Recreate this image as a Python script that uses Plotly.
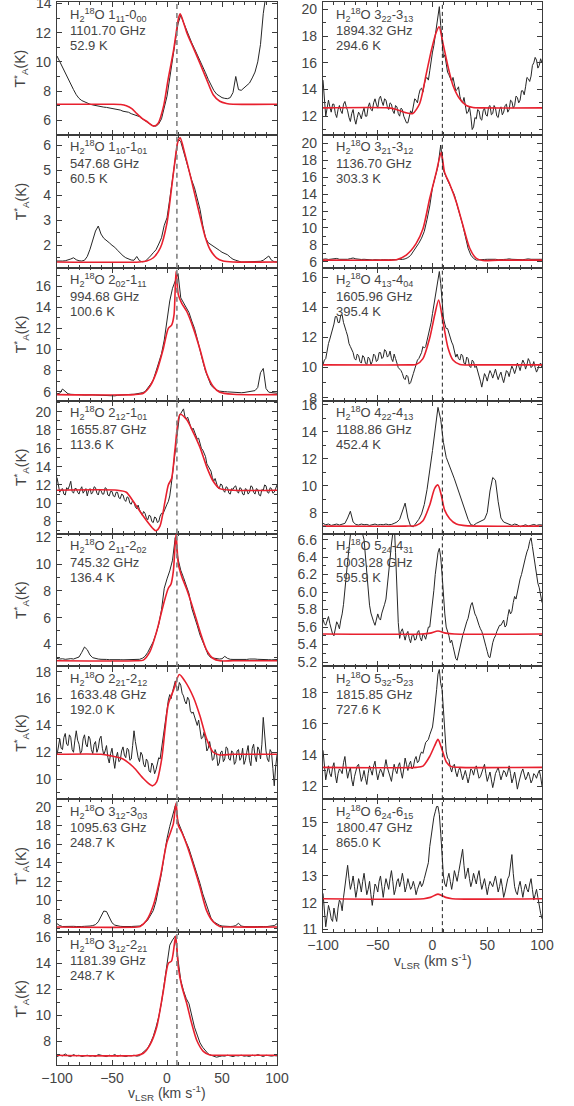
import numpy as np
import plotly.graph_objects as go

V_SYS = 9.0  # systemic velocity marked by the dashed line (km/s)

# ---------------- observed spectra (evenly spaced channels from -100 to 100 km/s) ----------------
OBS_L1 = [10.4,10.0,9.6,9.2,8.8,8.45,8.1,7.75,7.5,7.35,7.25,7.15,7.1,7.05,7.0,6.98,6.95,6.9,6.88,6.85,
          6.8,6.78,6.72,6.7,6.62,6.6,6.55,6.45,6.4,6.35,6.25,6.1,5.95,5.85,5.72,5.62,5.6,5.75,6.1,6.8,
          7.65,8.9,10.0,11.4,12.6,13.2,12.7,12.2,11.8,11.3,10.9,10.5,10.15,9.75,9.25,8.8,8.4,8.05,7.8,7.65,
          7.55,7.5,7.48,7.55,7.9,9.0,8.1,8.05,8.2,8.35,8.55,8.9,9.3,10.0,11.2,13.3,15.0,16.5,18.0,19.0,20.0]
OBS_L2 = [1.37,1.36,1.37,1.38,1.4,1.45,1.5,1.42,1.38,1.37,1.4,1.55,1.84,2.2,2.57,2.77,2.45,2.28,2.17,2.1,
          2.0,1.92,1.8,1.68,1.58,1.5,1.45,1.41,1.4,1.55,1.38,1.34,1.35,1.45,1.57,1.7,1.82,2.05,2.3,2.8,
          3.1,3.85,4.7,5.55,6.25,6.15,5.75,5.35,4.95,4.6,4.3,3.9,3.44,2.8,2.3,2.1,2.03,1.97,1.9,1.8,
          1.72,1.67,1.62,1.52,1.44,1.4,1.35,1.33,1.33,1.33,1.34,1.33,1.34,1.33,1.36,1.4,1.5,1.57,1.4,1.34,1.33]
OBS_L3 = [5.8,5.85,6.25,6.05,5.8,5.75,5.72,5.7,5.72,5.7,5.68,5.7,5.72,5.7,5.68,5.66,5.68,5.65,5.6,5.58,
          5.55,5.6,5.65,5.68,5.7,5.72,5.72,5.75,5.75,5.78,5.8,5.9,6.0,6.3,6.7,7.1,7.9,8.7,9.6,10.9,
          12.6,14.6,15.8,16.6,17.2,14.9,14.4,13.95,13.5,12.7,12.0,11.0,9.85,8.9,7.95,7.2,6.6,6.35,6.15,6.05,
          6.0,6.0,5.98,5.95,5.95,5.93,5.92,5.9,5.92,5.95,5.97,6.0,6.1,6.4,7.8,8.2,6.3,5.95,5.9,5.85,5.85]
OBS_L4 = [12.8,12.1,11.2,11.5,11.6,11.0,10.9,11.7,11.5,11.9,12.4,11.3,11.1,11.6,11.6,11.2,11.0,11.5,11.8,11.1,
          11.3,11.6,10.8,11.4,11.6,11.0,11.2,11.8,11.7,11.1,10.9,11.5,11.4,11.0,11.0,11.7,11.6,10.9,10.8,11.3,
          11.3,10.8,10.7,11.2,
          11.2,10.6,10.5,11.0,10.9,10.4,10.2,10.7,10.6,10.0,9.9,10.3,10.1,9.6,9.4,9.8,9.3,8.9,8.7,9.1,
          8.9,8.4,8.2,8.7,8.6,8.0,7.9,8.5,8.4,7.9,8.0,8.6,8.9,8.8,9.2,9.7,
          9.9,10.2,10.8,11.9,13.2,14.8,16.2,17.6,18.6,19.5,19.8,20.1,20.3,19.5,19.2,19.4,
          18.9,18.3,18.0,18.2,17.8,17.2,17.0,17.1,16.6,16.0,15.8,15.5,15.1,14.3,14.0,13.8,13.5,12.8,12.4,12.7,
          12.3,11.7,11.6,12.1,12.0,11.4,11.2,11.8,11.7,11.1,11.0,11.6,
          11.5,11.8,11.9,11.3,11.1,11.7,11.6,11.0,10.9,11.6,11.5,11.0,11.2,11.9,11.8,11.2,11.0,11.6,11.5,10.9,
          10.8,11.5,11.4,12.0,11.9,11.2,11.1,11.7,11.6,11.1,11.2,11.7,12.0]
OBS_L5 = [2.95,2.9,2.92,2.88,2.9,2.93,2.9,2.95,3.05,3.4,3.8,3.6,3.2,3.0,2.92,2.9,2.88,2.9,2.87,2.85,
          2.86,2.85,2.87,2.85,2.84,2.85,2.86,2.85,2.84,2.86,2.88,2.95,3.1,3.4,3.8,4.2,4.8,5.5,6.6,8.2,
          8.9,9.5,10.3,12.0,10.4,9.55,9.0,8.35,7.8,6.7,6.1,5.4,4.7,4.15,3.6,3.2,3.0,2.95,2.92,2.9,
          2.92,3.1,2.95,2.88,2.87,2.86,2.87,2.86,2.88,2.87,2.9,2.92,2.9,2.88,2.86,2.85,2.86,2.85,2.84,2.85,2.86]
OBS_L6 = [11.8,12.6,13.0,12.3,12.2,13.1,13.4,12.6,12.5,13.3,13.1,12.2,12.0,12.9,13.6,12.9,12.6,11.9,12.1,13.0,
          13.3,12.6,12.4,13.2,13.0,12.2,11.9,12.6,12.8,12.0,12.3,13.0,13.2,12.3,11.8,12.1,12.5,11.6,11.2,11.9,
          12.3,11.5,10.8,11.6,
          12.0,11.3,11.4,12.1,12.4,11.8,11.6,12.3,12.2,11.4,11.5,12.5,13.6,12.8,12.0,11.6,11.3,12.0,11.8,11.1,
          10.9,11.5,11.3,10.6,10.5,11.2,11.0,10.4,10.7,11.3,11.6,11.5,12.3,13.0,13.7,14.5,
          15.4,15.9,16.3,16.0,16.5,17.0,17.3,16.7,16.6,17.2,17.0,16.4,16.2,15.8,15.6,16.1,
          15.9,15.1,14.9,15.0,14.6,14.2,14.0,14.4,13.8,13.0,13.1,13.5,12.9,12.1,12.3,12.8,12.2,11.4,11.5,12.2,
          11.9,11.0,11.2,12.0,12.1,11.3,11.5,12.4,12.3,11.5,11.4,12.1,
          12.0,11.1,11.3,12.1,12.2,11.4,11.6,12.3,11.1,11.4,12.0,12.5,11.4,11.0,12.3,12.6,11.7,11.3,12.4,12.2,
          11.5,12.6,14.6,13.0,12.1,11.5,11.3,12.2,12.0,10.8,9.5,10.9,11.8]
OBS_L7 = [7.5,7.3,7.2,7.22,7.18,7.2,7.22,7.2,7.18,7.2,7.22,7.2,7.25,7.3,7.4,7.7,8.3,8.85,8.8,8.2,
          7.6,7.35,7.25,7.22,7.2,7.18,7.2,7.2,7.22,7.2,7.25,7.4,7.6,7.9,8.4,8.9,9.9,11.3,12.9,14.8,
          16.6,17.9,18.9,20.1,18.4,17.6,17.0,16.2,15.5,14.6,13.8,12.8,11.8,10.7,9.8,8.8,8.1,7.7,7.5,7.35,
          7.25,7.22,7.2,7.2,7.22,7.3,7.55,7.25,7.2,7.18,7.2,7.2,7.18,7.2,7.22,7.2,7.18,7.2,7.22,7.3,7.5]
OBS_L8 = [6.85,6.95,6.9,7.05,6.9,6.85,7.0,6.9,6.95,6.85,6.9,6.95,6.88,6.92,6.85,7.0,6.95,6.9,6.85,6.95,
          6.9,7.0,6.88,6.95,6.9,6.85,6.92,6.9,6.95,6.88,6.92,7.1,7.25,7.5,7.9,8.4,9.1,9.9,11.0,12.4,
          13.9,15.4,15.8,16.1,14.3,12.7,11.9,11.3,10.9,9.9,9.1,8.5,7.9,7.55,7.3,7.05,6.95,6.85,6.8,6.85,
          6.9,6.88,6.95,6.9,6.85,6.92,6.9,6.95,6.88,6.9,6.85,6.95,6.9,7.0,6.9,6.85,6.95,6.9,6.88,6.92,6.9]
OBS_R1 = [14.7,13.4,12.0,12.6,13.2,12.7,12.3,12.9,12.9,12.2,11.9,12.5,12.8,12.4,12.2,12.9,13.1,12.7,12.4,11.9,
          11.6,12.2,12.5,11.8,11.4,11.9,12.3,12.1,11.8,12.3,12.6,12.0,12.0,12.7,13.0,12.5,12.4,13.0,13.3,12.9,
          12.6,13.3,13.5,13.1,
          12.8,13.3,13.2,12.7,12.5,13.0,12.9,12.4,12.2,12.8,12.7,12.2,12.0,12.6,12.5,12.0,11.8,11.5,11.5,12.0,
          12.4,12.2,12.8,13.3,13.2,13.0,13.6,14.0,14.1,13.8,14.4,14.8,14.9,14.7,15.4,16.2,
          16.8,17.3,18.0,18.6,19.6,20.2,18.8,17.5,16.4,16.6,15.8,15.3,15.1,14.8,14.6,14.9,
          14.4,13.9,14.0,14.2,13.5,13.1,13.0,13.4,12.8,12.2,12.3,12.7,12.0,11.0,11.2,11.9,11.8,12.5,12.4,11.8,
          11.7,12.4,12.6,12.1,12.0,12.7,12.8,12.1,12.2,12.8,12.6,12.0,
          11.9,12.5,12.7,12.1,12.3,12.8,12.9,12.3,12.5,13.2,13.1,12.6,12.8,13.5,13.4,13.0,13.2,13.9,13.9,13.6,
          14.2,14.9,14.8,14.6,15.0,15.8,16.0,16.4,16.2,15.6,15.8,16.3,16.0]
OBS_R2 = [6.3,6.35,6.28,6.32,6.3,6.4,6.3,6.28,6.33,6.3,6.38,6.45,6.35,6.3,6.28,6.3,6.25,6.2,6.22,6.25,
          6.2,6.22,6.25,6.2,6.23,6.25,6.22,6.25,6.3,6.28,6.35,6.5,6.75,7.2,7.6,8.2,8.8,9.6,11.0,12.6,
          14.8,16.2,17.3,19.8,16.8,16.0,15.3,14.6,13.9,12.7,11.6,10.4,9.0,7.6,6.8,6.4,6.2,6.25,6.3,6.28,
          6.3,6.32,6.28,6.3,6.25,6.3,6.28,6.3,6.35,6.3,6.28,6.32,6.3,6.25,6.3,6.35,6.3,6.28,6.3,6.32,6.3]
OBS_R3 = [10.2,10.5,10.6,11.2,11.6,11.9,12.2,12.6,12.9,13.4,13.4,13.0,13.0,13.5,13.5,13.0,12.6,12.4,12.1,11.6,
          11.4,11.2,11.0,10.6,10.5,10.9,10.8,10.4,10.3,10.8,10.7,10.3,10.2,10.7,10.6,10.2,10.4,10.9,10.8,10.4,
          10.5,11.0,11.0,10.6,
          10.7,11.2,11.1,10.7,10.8,11.1,10.6,10.4,10.9,10.6,10.3,10.0,9.9,9.8,9.6,9.3,9.2,9.5,9.4,8.9,
          9.0,9.4,9.6,9.9,10.2,10.5,10.6,10.8,11.0,11.4,11.3,11.4,11.8,12.1,12.4,13.0,
          13.6,14.2,14.8,15.4,16.1,16.4,15.6,14.4,13.3,12.9,12.6,12.6,12.3,11.9,11.7,11.5,
          11.1,10.7,10.9,10.6,10.5,10.9,10.8,10.3,10.2,10.7,10.6,10.1,10.0,10.5,10.4,10.0,10.1,9.8,9.5,9.1,
          8.7,9.2,9.6,9.4,9.1,9.5,9.8,9.6,9.3,9.6,9.9,9.5,
          9.2,9.5,9.7,9.3,9.0,9.4,9.8,9.7,9.4,9.8,10.1,9.9,9.6,9.9,10.3,10.1,9.8,10.2,10.5,10.3,
          9.9,10.2,10.6,10.4,10.0,10.1,10.4,10.0,9.7,9.9,10.2,10.3,10.0]
OBS_R4 = [7.2,7.1,7.15,7.05,7.1,7.15,7.08,7.12,7.2,7.6,8.1,7.3,7.12,7.08,7.15,7.1,7.12,7.05,7.1,7.15,
          7.08,7.12,7.1,7.15,7.1,7.12,7.2,7.3,7.5,8.1,8.7,7.6,7.0,6.95,7.2,7.5,7.9,8.6,9.7,11.0,
          12.6,14.2,15.8,14.9,13.2,12.1,11.6,11.1,10.5,9.9,9.3,8.7,8.1,7.5,7.1,7.05,7.2,7.3,7.4,7.5,
          8.0,9.6,10.6,10.4,8.8,7.6,7.3,7.2,7.1,7.05,7.15,7.1,6.95,7.05,7.1,7.0,7.08,7.12,7.05,7.1,7.08]
OBS_R5 = [5.69,5.64,5.62,5.68,5.72,5.64,5.58,5.52,5.5,5.6,5.66,5.63,5.58,5.68,5.75,5.86,6.0,6.18,6.35,6.5,
          6.7,6.85,6.95,6.92,6.9,6.85,6.8,6.76,6.7,6.66,6.6,6.4,6.2,6.0,5.85,5.76,5.7,5.66,5.62,5.7,
          5.75,5.7,5.68,5.76,
          5.8,5.86,5.92,6.05,6.2,6.38,6.55,6.75,6.8,6.45,5.95,5.65,5.47,5.55,5.58,5.5,5.45,5.52,5.55,5.47,
          5.42,5.5,5.52,5.45,5.46,5.54,5.56,5.48,5.44,5.52,5.5,5.46,5.54,5.6,5.6,5.72,
          5.85,6.02,6.2,6.35,6.45,6.5,6.4,6.2,5.95,5.75,5.6,5.55,5.5,5.42,5.45,5.38,
          5.3,5.24,5.22,5.3,5.35,5.42,5.5,5.55,5.62,5.66,5.7,5.78,5.85,5.88,5.8,5.75,5.72,5.66,5.62,5.58,
          5.55,5.5,5.45,5.38,5.32,5.26,5.25,5.35,5.42,5.47,5.5,5.55,
          5.58,5.62,5.62,5.66,5.68,5.6,5.62,5.72,5.8,5.75,5.78,5.88,5.95,5.92,6.0,6.1,6.15,6.2,6.28,6.36,
          6.4,6.46,6.5,6.58,6.62,6.52,6.4,6.3,6.2,6.1,6.05,5.95,5.88]
OBS_R6 = [14.3,13.2,12.4,12.9,13.3,12.8,12.6,13.2,13.5,12.7,12.2,12.8,13.1,13.0,12.8,13.5,13.9,13.1,12.5,12.9,
          13.2,12.4,12.0,12.6,12.9,13.3,13.4,12.7,12.3,12.6,13.0,12.5,12.1,12.8,13.3,13.0,12.7,13.3,13.6,12.9,
          12.4,12.8,13.1,12.9,
          12.6,13.2,13.7,13.2,12.9,12.5,12.3,12.9,13.4,13.0,12.8,13.3,13.5,12.9,12.5,13.1,13.8,13.4,13.0,13.4,
          13.6,13.1,13.2,13.7,13.9,13.5,13.6,14.0,14.2,14.1,14.5,14.8,14.9,15.0,15.3,15.5,
          15.8,16.5,17.2,18.2,19.2,19.5,18.6,18.2,16.9,15.4,14.2,13.8,13.7,13.2,12.9,13.3,
          13.4,12.9,12.6,13.0,13.2,12.8,12.4,12.7,13.0,12.6,12.2,12.6,13.1,13.0,12.7,13.1,13.3,12.9,12.5,12.6,
          12.9,13.2,13.4,12.8,12.3,12.6,12.9,12.4,11.9,12.3,12.8,13.0,
          13.2,12.8,12.4,12.7,13.0,12.9,12.6,12.9,13.3,12.8,12.2,12.5,12.9,12.4,11.8,12.2,12.6,12.9,13.1,12.8,
          12.4,12.6,12.9,12.6,12.2,12.4,12.8,12.7,12.5,12.8,13.0,12.6,12.0]
OBS_R7 = [12.35,11.6,11.1,11.5,11.9,11.7,11.4,11.3,11.8,11.5,11.3,11.8,12.1,12.0,11.7,12.2,12.6,13.0,13.4,12.9,
          12.5,12.7,13.0,12.6,12.2,12.5,12.9,12.7,12.4,12.8,13.1,12.7,12.3,12.5,12.8,12.3,11.9,12.3,12.7,12.6,
          12.4,12.8,13.0,12.6,
          12.2,12.6,12.9,12.7,12.5,12.9,13.2,12.8,12.3,12.5,12.8,12.9,12.6,12.8,13.1,12.8,12.4,12.6,12.9,12.7,
          12.5,12.6,12.8,12.6,12.3,12.5,12.7,12.8,12.6,12.7,12.9,13.1,13.2,13.5,14.1,14.5,
          14.8,15.2,15.4,15.6,15.6,15.3,14.6,13.8,13.0,12.7,12.6,12.9,13.1,12.8,12.5,12.8,
          13.2,13.0,12.8,13.1,13.4,13.8,14.0,13.4,12.9,13.1,13.3,12.9,12.6,12.8,13.1,12.9,12.7,13.0,13.2,12.8,
          12.5,12.7,12.9,12.6,12.3,12.6,12.8,12.7,12.6,12.8,13.0,12.7,
          12.4,12.6,12.9,12.6,12.2,12.4,12.7,12.9,13.0,13.5,13.8,13.1,12.6,12.4,12.3,12.6,12.8,12.5,12.2,12.5,
          12.7,12.5,12.4,12.7,12.9,12.5,12.1,12.3,12.5,12.2,11.8,11.6,11.4]

# ---------------- model spectra (red) ----------------
MOD_L1_V = [-100,-50,-42,-37,-32,-28,-23,-18,-12,-8,-3,1,6,10.5,12,15,18,24,30,36,42,48,54,60,100]
MOD_L1_T = [7.1,7.1,7.08,7.0,6.8,6.5,6.15,5.9,5.6,5.8,7.0,8.8,10.8,13.0,13.3,12.7,12.0,10.95,9.9,8.8,7.75,7.3,7.15,7.1,7.1]
MOD_L2_V = [-100,-25,-18.5,-12.4,-6,0,4,7,10,12,16,22,28.5,34.5,39,45,51,60,100]
MOD_L2_T = [1.33,1.33,1.37,1.5,1.9,2.9,4.24,5.3,6.17,6.3,5.7,4.64,3.44,2.37,1.84,1.5,1.37,1.33,1.33]
MOD_L3_V = [-100,-30,-21.5,-15.5,-9.4,-3.3,1.2,4.2,6.4,8.2,10.3,13.3,18,24,30,36,42,48,60,100]
MOD_L3_T = [5.72,5.72,5.85,6.5,7.9,10.1,12.0,12.3,13.3,17.4,15.2,14.4,13.6,12.0,10.0,7.75,6.5,5.95,5.75,5.72]
MOD_L4_V = [-100,-45,-37,-30.6,-24.5,-18.5,-12.4,-10,-6.4,-1.8,1.2,4.2,7.3,11.8,18,22.4,30,36,42,48,60,100]
MOD_L4_T = [11.42,11.42,11.2,10.2,9.1,8.1,7.2,7.0,7.5,10.2,12.0,12.7,15.9,19.7,19.1,18.1,16.1,14.0,12.4,11.6,11.42,11.42]
MOD_L5_V = [-100,-28,-21.5,-15.5,-9.4,-3.3,1.2,3.6,5.8,8.2,10.3,13.3,18,24,30,36,42,48,60,100]
MOD_L5_T = [2.77,2.77,2.82,3.45,4.96,6.97,8.2,8.5,9.5,12.25,10.0,9.1,8.1,6.6,4.96,3.57,2.94,2.77,2.77,2.77]
MOD_L6_V = [-100,-60,-52,-40,-30.6,-21.5,-15.5,-13,-9.4,-4.8,-1.8,1.2,5.8,11.2,16.3,24,30,36,42,48,60,100]
MOD_L6_T = [11.85,11.85,11.75,11.5,10.9,10.05,9.6,9.5,9.8,11.5,13.7,15.6,16.6,17.8,17.3,16.1,14.7,13.0,12.0,11.8,11.85,11.85]
MOD_L7_V = [-100,-27,-24.5,-18.5,-12.4,-6.4,-0.3,3.3,5.8,8.2,10.3,13.3,18,24,30,36,42,48,60,100]
MOD_L7_T = [7.14,7.14,7.2,7.86,9.46,12.3,16.1,17.3,18.2,20.4,18.0,17.3,15.9,13.75,11.4,8.9,7.7,7.2,7.14,7.14]
MOD_L8_V = [-100,-27,-21.5,-15.5,-9.4,-3.3,1.2,4.2,7.9,10.3,13.3,18,22.4,27,33,39,50,100]
MOD_L8_T = [6.95,6.95,7.1,7.75,9.1,11.9,14.0,14.2,16.1,13.7,12.3,10.9,9.4,8.1,7.25,6.97,6.95,6.95]
MOD_R1_V = [-100,-40,-33,-24,-18,-11.7,-5.6,-1,3.5,6,9.6,14.2,18.7,24.8,30.9,37,45,100]
MOD_R1_T = [12.62,12.62,12.5,12.25,12.2,12.95,15.2,16.95,18.3,18.7,17.45,15.7,14.3,13.3,12.8,12.65,12.62,12.62]
MOD_R2_V = [-100,-40,-33,-24,-15,-8.7,-2.6,3.5,8,11,15.7,21.8,27.8,34,40,46,60,100]
MOD_R2_T = [6.2,6.2,6.25,6.8,8.15,9.9,13.45,16.6,18.95,16.6,15.2,13.05,10.3,7.6,6.4,6.15,6.2,6.2]
MOD_R3_V = [-100,-20,-15,-8.7,-2.6,2,5.6,9.6,14.2,18.7,25,35,100]
MOD_R3_T = [10.18,10.18,10.2,10.6,11.95,13.5,14.5,13.05,11.3,10.5,10.2,10.18,10.18]
MOD_R4_V = [-100,-25,-15,-8.7,-2.6,2,5,8,11,15.7,21.8,27.8,40,100]
MOD_R4_T = [7.0,7.0,7.05,7.4,8.55,9.8,10.05,9.3,8.2,7.55,7.15,7.05,7.0,7.0]
MOD_R5_V = [-100,-10,-2,5,12,20,100]
MOD_R5_T = [5.52,5.52,5.53,5.555,5.53,5.52,5.52]
MOD_R6_V = [-100,-15,-8.7,-2.6,2,5,8,12.6,17.2,25,100]
MOD_R6_T = [13.2,13.2,13.28,13.9,14.6,15.0,14.5,13.55,13.25,13.2,13.2]
MOD_R7_V = [-100,-8,-2,5,12,18,100]
MOD_R7_T = [12.15,12.15,12.2,12.32,12.2,12.15,12.15]

# ---------------- labels ----------------
TRANSITIONS_L = ["1<sub>11</sub>-0<sub>00</sub>", "1<sub>10</sub>-1<sub>01</sub>", "2<sub>02</sub>-1<sub>11</sub>",
                 "2<sub>12</sub>-1<sub>01</sub>", "2<sub>11</sub>-2<sub>02</sub>", "2<sub>21</sub>-2<sub>12</sub>",
                 "3<sub>12</sub>-3<sub>03</sub>", "3<sub>12</sub>-2<sub>21</sub>"]
FREQS_L = ["1101.70 GHz", "547.68 GHz", "994.68 GHz", "1655.87 GHz", "745.32 GHz", "1633.48 GHz",
           "1095.63 GHz", "1181.39 GHz"]
EUP_L = ["52.9 K", "60.5 K", "100.6 K", "113.6 K", "136.4 K", "192.0 K", "248.7 K", "248.7 K"]
TRANSITIONS_R = ["3<sub>22</sub>-3<sub>13</sub>", "3<sub>21</sub>-3<sub>12</sub>", "4<sub>13</sub>-4<sub>04</sub>",
                 "4<sub>22</sub>-4<sub>13</sub>", "5<sub>24</sub>-4<sub>31</sub>", "5<sub>32</sub>-5<sub>23</sub>",
                 "6<sub>24</sub>-6<sub>15</sub>"]
FREQS_R = ["1894.32 GHz", "1136.70 GHz", "1605.96 GHz", "1188.86 GHz", "1003.28 GHz", "1815.85 GHz", "1800.47 GHz"]
EUP_R = ["294.6 K", "303.3 K", "395.4 K", "452.4 K", "595.9 K", "727.6 K", "865.0 K"]

YRANGE_L = [[5.0, 14.1], [1.1, 6.42], [5.15, 17.75], [6.7, 21.2], [2.35, 12.3], [8.5, 18.4], [6.6, 20.8], [6.2, 16.4]]
YDTICK_L = [2, 1, 2, 2, 2, 2, 2, 2]
YRANGE_R = [[10.6, 20.55], [5.3, 21.0], [7.8, 16.65], [6.45, 16.3], [5.15, 6.67], [11.15, 19.7], [10.9, 15.87]]
YDTICK_R = [2, 2, 2, 2, 0.2, 2, 1]
TOP_TICK_L1 = 14  # top tick of the first panel, whose label sits at the page edge

OBS_L = [OBS_L1, OBS_L2, OBS_L3, OBS_L4, OBS_L5, OBS_L6, OBS_L7, OBS_L8]
OBS_R = [OBS_R1, OBS_R2, OBS_R3, OBS_R4, OBS_R5, OBS_R6, OBS_R7]
MOD_L = [(MOD_L1_V, MOD_L1_T), (MOD_L2_V, MOD_L2_T), (MOD_L3_V, MOD_L3_T), (MOD_L4_V, MOD_L4_T),
         (MOD_L5_V, MOD_L5_T), (MOD_L6_V, MOD_L6_T), (MOD_L7_V, MOD_L7_T), (MOD_L8_V, MOD_L8_T)]
MOD_R = [(MOD_R1_V, MOD_R1_T), (MOD_R2_V, MOD_R2_T), (MOD_R3_V, MOD_R3_T), (MOD_R4_V, MOD_R4_T),
         (MOD_R5_V, MOD_R5_T), (MOD_R6_V, MOD_R6_T), (MOD_R7_V, MOD_R7_T)]

# ---------------- figure ----------------
W, H = 574, 1106
TOP, PH = 2.0, 132.875
XL = [57 / W, 277 / W]
XR = [323 / W, 542 / W]
FONT = "Arial, Liberation Sans, Helvetica, sans-serif"
TXT = "#444444"
FRAME = "#3c3c3c"
BLACK = "#262626"
RED = "#e8202e"

fig = go.Figure()
layout = {}
annotations = []
shapes = []

panels = []
for k in range(8):
    panels.append(dict(col="L", row=k, obs=OBS_L[k], mod=MOD_L[k], tr=TRANSITIONS_L[k], fr=FREQS_L[k],
                       eu=EUP_L[k], yr=YRANGE_L[k], dt=YDTICK_L[k], last=(k == 7)))
for k in range(7):
    panels.append(dict(col="R", row=k, obs=OBS_R[k], mod=MOD_R[k], tr=TRANSITIONS_R[k], fr=FREQS_R[k],
                       eu=EUP_R[k], yr=YRANGE_R[k], dt=YDTICK_R[k], last=(k == 6)))

for i, p in enumerate(panels, start=1):
    sfx = "" if i == 1 else str(i)
    xa, ya = "x" + sfx, "y" + sfx
    k = p["row"]
    y0 = 1 - (TOP + (k + 1) * PH) / H
    y1 = 1 - (TOP + k * PH) / H
    left = p["col"] == "L"

    obs = p["obs"]
    vel = np.linspace(-100, 100, len(obs))
    fig.add_trace(go.Scatter(x=vel, y=obs, mode="lines", line=dict(color=BLACK, width=1.0),
                             xaxis=xa, yaxis=ya, showlegend=False, hoverinfo="skip"))
    mv, mt = p["mod"]
    fig.add_trace(go.Scatter(x=mv, y=mt, mode="lines",
                             line=dict(color=RED, width=1.6, shape="spline", smoothing=0.7),
                             xaxis=xa, yaxis=ya, showlegend=False, hoverinfo="skip"))

    layout["xaxis" + sfx] = dict(
        domain=XL if left else XR, anchor=ya, range=[-100, 100], automargin=False,
        tickmode="linear", tick0=-100, dtick=50, ticks="inside", ticklen=5, tickwidth=1, tickcolor=FRAME,
        minor=dict(ticks="inside", dtick=10, tick0=-100, ticklen=2.5, tickcolor=FRAME),
        showline=True, linecolor=FRAME, linewidth=1.3, mirror="ticks",
        showgrid=False, zeroline=False, showticklabels=p["last"],
        tickfont=dict(family=FONT, size=14, color=TXT), fixedrange=True,
    )
    dt = p["dt"]
    layout["yaxis" + sfx] = dict(
        domain=[y0, y1], anchor=xa, range=p["yr"], automargin=False,
        tickmode="linear", tick0=0, dtick=dt, ticks="inside", ticklen=5, tickwidth=1, tickcolor=FRAME,
        minor=dict(ticks="inside", dtick=dt / 2, tick0=0, ticklen=2.5, tickcolor=FRAME),
        showline=True, linecolor=FRAME, linewidth=1.3, mirror="ticks",
        showgrid=False, zeroline=False, tickformat=".1f" if dt < 1 else "d",
        tickfont=dict(family=FONT, size=14, color=TXT), ticklabelstandoff=2, fixedrange=True,
    )

    shapes.append(dict(type="line", xref=xa, yref=ya + " domain", x0=V_SYS, x1=V_SYS, y0=0, y1=1,
                       line=dict(color="#808080" if left else "#222222", width=1.6 if left else 1.0,
                                 dash="5px,4px" if left else "4px,3px"), layer="above"))

    lines = ["H<sub>2</sub><sup>18</sup>O " + p["tr"], p["fr"], p["eu"]]
    offs = [12.5, 28.5, 43.5]
    for txt, off in zip(lines, offs):
        annotations.append(dict(xref=xa + " domain", yref=ya + " domain", x=0.05, y=1, yshift=-off,
                                xanchor="left", yanchor="middle", showarrow=False, text=txt,
                                font=dict(family=FONT, size=13, color=TXT)))

    if left:
        annotations.append(dict(xref="paper", yref="paper", x=21 / W, y=(y0 + y1) / 2, textangle=-90,
                                xanchor="center", yanchor="middle", showarrow=False,
                                text="T<sup>*</sup><sub>A</sub>(K)",
                                font=dict(family=FONT, size=14, color=TXT)))
    if p["last"]:
        xd = XL if left else XR
        ypix = 1093 if left else 961
        annotations.append(dict(xref="paper", yref="paper", x=(xd[0] + xd[1]) / 2, y=1 - ypix / H,
                                xanchor="center", yanchor="middle", showarrow=False,
                                text="v<sub>LSR</sub> (km s<sup>-1</sup>)",
                                font=dict(family=FONT, size=14, color=TXT)))

# label of the top tick of the first panel (Plotly drops it because it touches the page edge)
annotations.append(dict(xref="paper", yref="y", x=(57 - 4) / W, y=TOP_TICK_L1, xanchor="right",
                        yanchor="middle", showarrow=False, text=str(TOP_TICK_L1), borderpad=0,
                        font=dict(family=FONT, size=14, color=TXT)))

fig.update_layout(
    width=W, height=H, margin=dict(l=0, r=0, t=0, b=0, autoexpand=False),
    paper_bgcolor="white", plot_bgcolor="white",
    annotations=annotations, shapes=shapes, **layout,
)

fig.write_html("out.html", config={"displayModeBar": False},
               post_script="document.body.style.margin='0px';document.body.style.padding='0px';")
